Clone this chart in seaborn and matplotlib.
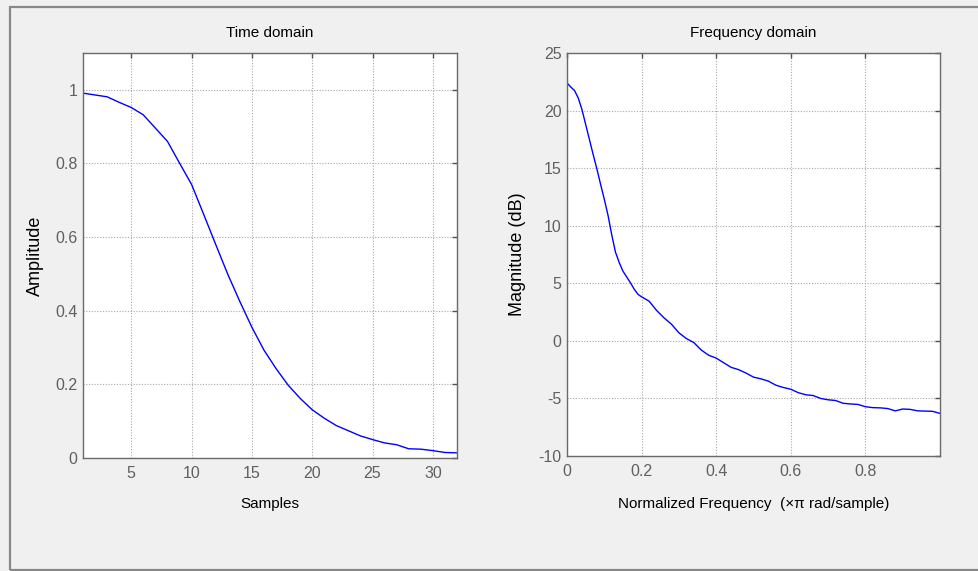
import numpy as np
import pandas as pd
import matplotlib
matplotlib.use("Agg")
import matplotlib.pyplot as plt
from matplotlib.patches import Rectangle
import seaborn as sns

# ---- data ----
samples = list(range(1, 33))
amplitude = [0.991, 0.986, 0.981, 0.966, 0.952, 0.932, 0.896, 0.860, 0.801, 0.743,
             0.662, 0.580, 0.499, 0.425, 0.355, 0.293, 0.243, 0.198, 0.162, 0.131,
             0.108, 0.088, 0.074, 0.060, 0.050, 0.041, 0.036, 0.025, 0.024, 0.020,
             0.015, 0.014]

norm_freq = [0.00, 0.01, 0.02, 0.03, 0.04, 0.05, 0.06, 0.07, 0.08, 0.09, 0.10, 0.11,
             0.12, 0.13, 0.14, 0.15, 0.16, 0.17, 0.18, 0.19, 0.20, 0.22, 0.24, 0.26, 0.28,
             0.30, 0.32, 0.34, 0.36, 0.38, 0.40, 0.42, 0.44, 0.46, 0.48, 0.50, 0.52,
             0.54, 0.56, 0.58, 0.60, 0.62, 0.64, 0.66, 0.68, 0.70, 0.72, 0.74, 0.76,
             0.78, 0.80, 0.82, 0.84, 0.86, 0.88, 0.90, 0.92, 0.94, 0.96, 0.98, 1.00]
magnitude_db = [22.4, 22.05, 21.75, 21.1, 20.1, 18.8, 17.5, 16.2, 14.95, 13.6, 12.3, 10.9,
                9.2, 7.7, 6.8, 6.05, 5.55, 5.05, 4.5, 4.05, 3.82, 3.45, 2.65, 2.0, 1.45,
                0.7, 0.2, -0.15, -0.8, -1.25, -1.5, -1.9, -2.3, -2.5, -2.8, -3.15, -3.3,
                -3.5, -3.85, -4.05, -4.2, -4.5, -4.68, -4.75, -5.0, -5.12, -5.18, -5.42, -5.48,
                -5.52, -5.72, -5.8, -5.82, -5.88, -6.08, -5.92, -5.95, -6.08, -6.1, -6.12, -6.3]

time_xticks = [5, 10, 15, 20, 25, 30]
time_yticks = [0, 0.2, 0.4, 0.6, 0.8, 1]
time_yticklabels = ["0", "0.2", "0.4", "0.6", "0.8", "1"]
freq_xticks = [0, 0.2, 0.4, 0.6, 0.8]
freq_xticklabels = ["0", "0.2", "0.4", "0.6", "0.8"]
freq_yticks = [-10, -5, 0, 5, 10, 15, 20, 25]

sns.set_style("white")
plt.rcParams["font.family"] = ["Liberation Sans", "DejaVu Sans"]
plt.rcParams["axes.unicode_minus"] = False

df_time = pd.DataFrame({"Samples": samples, "Amplitude": amplitude})
df_freq = pd.DataFrame({"f": norm_freq, "mag": magnitude_db})

W, H = 979, 571
fig = plt.figure(figsize=(W / 100, H / 100), dpi=100)
fig.patch.set_facecolor("#f0f0f0")

# outer frame
fig.add_artist(Rectangle((10 / W, 1 / H), 1.0, (570 - 7) / H, transform=fig.transFigure,
                         fill=False, edgecolor="#888888", linewidth=1.6, clip_on=False))

ax1 = fig.add_axes([83 / W, 1 - 458 / H, (457 - 83) / W, (458 - 53) / H])
ax2 = fig.add_axes([567 / W, 1 - 456 / H, (940 - 567) / W, (456 - 53) / H])

sns.lineplot(data=df_time, x="Samples", y="Amplitude", ax=ax1, color="#0000ff", linewidth=1.0)
sns.lineplot(data=df_freq, x="f", y="mag", ax=ax2, color="#0000ff", linewidth=1.0)

tick_color = "#606060"

def style(ax):
    ax.set_facecolor("white")
    for s in ax.spines.values():
        s.set_visible(True)
        s.set_color("#6a6a6a")
        s.set_linewidth(1.0)
    ax.grid(True, linestyle=(0, (1, 1.5)), color="#a8a8a8", linewidth=0.8)
    ax.tick_params(direction="in", length=3.5, width=1.0, color="#505050",
                   top=True, right=True, labelsize=11.5, labelcolor=tick_color)
    ax.tick_params(axis="x", pad=6)
    ax.tick_params(axis="y", pad=4)

style(ax1)
style(ax2)

ax1.set_xlim(1, 32)
ax1.set_ylim(0, 1.1)
ax1.set_xticks(time_xticks)
ax1.set_yticks(time_yticks)
ax1.set_yticklabels(time_yticklabels)
ax1.set_title("Time domain", fontsize=11, pad=11.5, color="black")
ax1.set_xlabel("Samples", fontsize=11, color="black", va="top")
ax1.set_ylabel("Amplitude", fontsize=13, color="black")
ax1.xaxis.set_label_coords(0.5, (458 - 497) / 405)
ax1.yaxis.set_label_coords((44 - 83) / 374, 0.5)

ax2.set_xlim(0, 1)
ax2.set_ylim(-10, 25)
ax2.set_xticks(freq_xticks)
ax2.set_xticklabels(freq_xticklabels)
ax2.set_yticks(freq_yticks)
ax2.set_title("Frequency domain", fontsize=11, pad=11.5, color="black")
ax2.set_xlabel("Normalized Frequency  (\u00d7\u03c0 rad/sample)", fontsize=11, color="black", va="top")
ax2.set_ylabel("Magnitude (dB)", fontsize=13, color="black")
ax2.xaxis.set_label_coords(0.5, (456 - 497) / 403)
ax2.yaxis.set_label_coords((526 - 567) / 373, 0.5)

fig.savefig("out.png", dpi=100, facecolor=fig.get_facecolor())
